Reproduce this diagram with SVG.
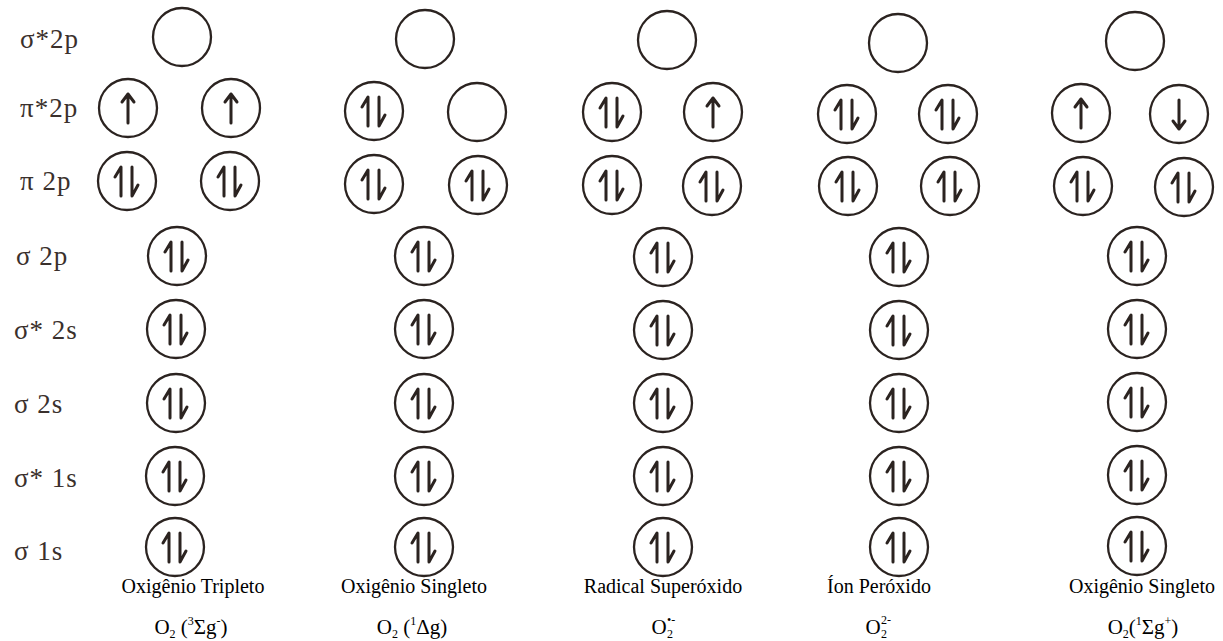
<svg xmlns="http://www.w3.org/2000/svg" width="1223" height="641" viewBox="0 0 1223 641">
<style>
.orb{fill:none;stroke:#2b2320;stroke-width:2.3}
.ar{fill:none;stroke:#2b2320;stroke-width:3;stroke-linecap:round;stroke-linejoin:round}
.lvl{font-family:"Liberation Serif","Times New Roman",serif;font-size:27px;letter-spacing:1px;fill:#3a302c}
.cap{font-family:"Liberation Serif","Times New Roman",serif;font-size:20px;fill:#000;text-anchor:middle}
.cap2{font-family:"Liberation Serif","Times New Roman",serif;font-size:21px;fill:#000;text-anchor:middle}
.sm{font-size:12px}
.ss{font-family:"Liberation Serif","Times New Roman",serif;font-size:12px;fill:#000}
</style>
<defs>
<g id="empty"><circle class="orb" r="29"/></g>
<g id="pair"><circle class="orb" r="29"/><path class="ar" d="M-6,15 V-14 L-12,-4 M5,-14 V15 L11,4"/></g>
<g id="up"><circle class="orb" r="29"/><path class="ar" d="M0,15 V-14 M-6,-6 L0,-14 L6,-6"/></g>
<g id="down"><circle class="orb" r="29"/><path class="ar" d="M0,-14 V15 M-6,7 L0,15 L6,7"/></g>
</defs>
<rect width="1223" height="641" fill="#fff"/>
<g id="levels">
<text class="lvl" x="20" y="48">σ*2p</text>
<text class="lvl" x="20" y="117">π*2p</text>
<text class="lvl" x="20" y="190">π 2p</text>
<text class="lvl" x="16" y="265">σ 2p</text>
<text class="lvl" x="14" y="339">σ* 2s</text>
<text class="lvl" x="14" y="413">σ 2s</text>
<text class="lvl" x="14" y="487">σ* 1s</text>
<text class="lvl" x="14" y="560">σ 1s</text>
</g>
<g id="col1">
<use href="#empty" x="182" y="37"/>
<use href="#up" x="128" y="108"/><use href="#up" x="231" y="108"/>
<use href="#pair" x="127" y="181"/><use href="#pair" x="230" y="181"/>
<use href="#pair" x="177" y="256"/><use href="#pair" x="176" y="329"/><use href="#pair" x="176" y="403"/><use href="#pair" x="175" y="476"/><use href="#pair" x="175" y="547"/>
<text class="cap" x="193" y="593">Oxigênio Tripleto</text>
<text class="cap2" x="191" y="634">O<tspan class="sm" dy="4">2</tspan><tspan dy="-4"> (</tspan><tspan class="sm" dy="-9">3</tspan><tspan dy="9">Σg</tspan><tspan class="sm" dy="-9">-</tspan><tspan dy="9">)</tspan></text>
</g>
<g id="col2">
<use href="#empty" x="425" y="39"/>
<use href="#pair" x="374" y="111"/><use href="#empty" x="477" y="112"/>
<use href="#pair" x="374" y="184"/><use href="#pair" x="478" y="185"/>
<use href="#pair" x="424" y="256"/><use href="#pair" x="424" y="329"/><use href="#pair" x="424" y="403"/><use href="#pair" x="424" y="476"/><use href="#pair" x="424" y="547"/>
<text class="cap" x="414" y="593">Oxigênio Singleto</text>
<text class="cap2" x="412" y="634">O<tspan class="sm" dy="4">2</tspan><tspan dy="-4"> (</tspan><tspan class="sm" dy="-9">1</tspan><tspan dy="9">Δg)</tspan></text>
</g>
<g id="col3">
<use href="#empty" x="667" y="40"/>
<use href="#pair" x="612" y="112"/><use href="#up" x="713" y="112"/>
<use href="#pair" x="612" y="185"/><use href="#pair" x="712" y="186"/>
<use href="#pair" x="663" y="257"/><use href="#pair" x="663" y="330"/><use href="#pair" x="663" y="403"/><use href="#pair" x="663" y="476"/><use href="#pair" x="663" y="547"/>
<text class="cap" x="663" y="593">Radical Superóxido</text>
<text class="cap2" x="659" y="634">O</text>
<text class="ss" x="667" y="624">•-</text>
<text class="ss" x="667" y="638">2</text>
</g>
<g id="col4">
<use href="#empty" x="898" y="43"/>
<use href="#pair" x="847" y="114"/><use href="#pair" x="948" y="114"/>
<use href="#pair" x="848" y="186"/><use href="#pair" x="950" y="186"/>
<use href="#pair" x="899" y="257"/><use href="#pair" x="899" y="330"/><use href="#pair" x="899" y="403"/><use href="#pair" x="899" y="476"/><use href="#pair" x="899" y="547"/>
<text class="cap" x="879" y="593">Íon Peróxido</text>
<text class="cap2" x="873" y="634">O</text>
<text class="ss" x="881" y="624">2-</text>
<text class="ss" x="881" y="638">2</text>
</g>
<g id="col5">
<use href="#empty" x="1135" y="41"/>
<use href="#up" x="1081" y="113"/><use href="#down" x="1179" y="114"/>
<use href="#pair" x="1083" y="186"/><use href="#pair" x="1184" y="187"/>
<use href="#pair" x="1137" y="256"/><use href="#pair" x="1137" y="329"/><use href="#pair" x="1137" y="402"/><use href="#pair" x="1137" y="475"/><use href="#pair" x="1137" y="546"/>
<text class="cap" x="1142" y="593">Oxigênio Singleto</text>
<text class="cap2" x="1143" y="634">O<tspan class="sm" dy="4">2</tspan><tspan dy="-4">(</tspan><tspan class="sm" dy="-9">1</tspan><tspan dy="9">Σg</tspan><tspan class="sm" dy="-9">+</tspan><tspan dy="9">)</tspan></text>
</g>
</svg>
